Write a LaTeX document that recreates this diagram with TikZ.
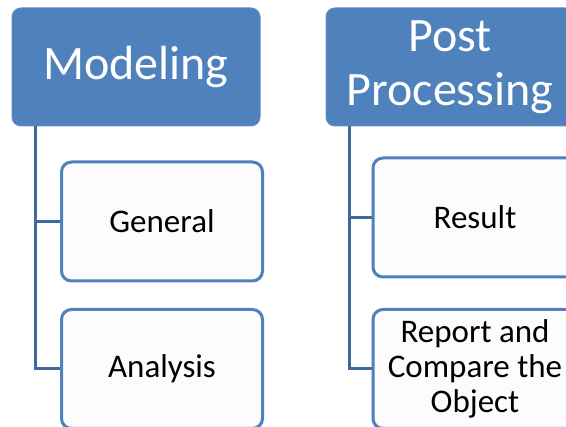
\documentclass[tikz,border=0pt]{standalone}
\usepackage{fontspec}
\setmainfont{Carlito}
\definecolor{headblue}{HTML}{4F81BD}
\definecolor{linkblue}{HTML}{3F6A9E}
\definecolor{childfill}{HTML}{FCFCFC}
\begin{document}
\begin{tikzpicture}[x=1pt,y=-1pt,
  head/.style={draw=headblue!90!white, line width=1pt, fill=headblue, rounded corners=9pt,
    text=white, align=center, inner sep=0pt,
    minimum width=248pt, minimum height=118pt,
    font=\fontsize{48}{54}\selectfont},
  child/.style={draw=headblue, line width=3pt, fill=childfill, rounded corners=10pt,
    text=black, align=center, inner sep=0pt,
    minimum width=201pt, minimum height=119pt,
    font=\fontsize{33}{35}\selectfont},
  link/.style={draw=linkblue, line width=3pt}]
\useasboundingbox (0,0) rectangle (566,427);
\clip (0,0) rectangle (566,427);
\fill[white] (0,0) rectangle (566,427);

% first column
\node[head] (model) at (136,67) {Modeling};
\node[child] (general) at (162,221.5) {General};
\node[child] (analysis) at (162,369) {Analysis};
\coordinate (mroot) at (35,126);
\draw[link] (mroot) |- (general.west);
\draw[link] (mroot) |- (analysis.west);

% second column
\node[head] (post) at (450,67) {Post\\Processing};
\node[child, minimum width=204pt] (result) at (475,217.5) {Result};
\node[child, minimum width=204pt] (report) at (475,369) {Report and\\Compare the\\Object};
\coordinate (proot) at (349,126);
\draw[link] (proot) |- (result.west);
\draw[link] (proot) |- (report.west);
\end{tikzpicture}
\end{document}
